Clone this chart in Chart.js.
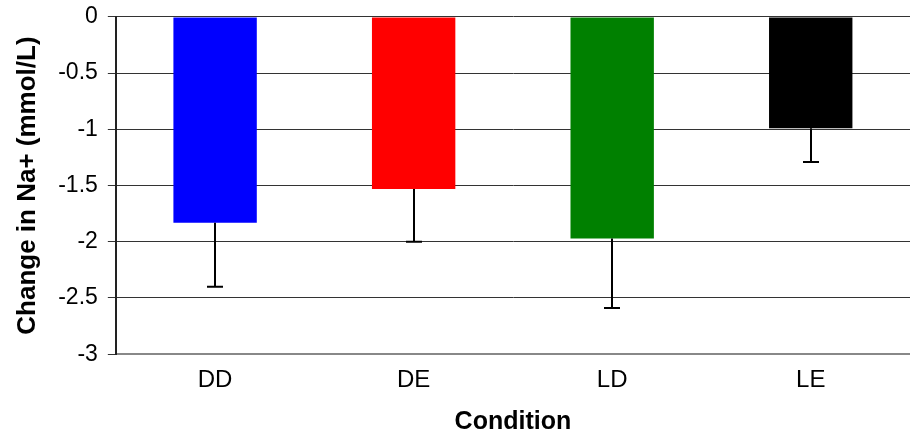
<!DOCTYPE html>
<html>
<head>
<meta charset="utf-8">
<script src="https://cdn.jsdelivr.net/npm/chart.js@4.4.0/dist/chart.umd.min.js"></script>
<style>
  html, body { margin: 0; padding: 0; background: #fff; }
  #wrap { width: 910px; height: 437px; }
</style>
</head>
<body>
<div id="wrap"><canvas id="chart" width="910" height="437"></canvas></div>
<script>
// data
const conditions = ["DD", "DE", "LD", "LE"];
const naChange = [-1.83, -1.53, -1.97, -0.99];
const naError = [0.57, 0.47, 0.62, 0.30]; // drawn downward only
const barColors = ["#0000ff", "#ff0000", "#008000", "#000000"];

// simple error bar plugin, uses the y scale to place each whisker
const errorBars = {
  id: "errorBars",
  afterDatasetsDraw(chart) {
    const ctx = chart.ctx;
    const yScale = chart.scales.y;
    const meta = chart.getDatasetMeta(0);
    ctx.save();
    ctx.strokeStyle = "#000";
    ctx.lineWidth = 2;
    meta.data.forEach((bar, i) => {
      const x = Math.round(bar.x);
      const yTop = yScale.getPixelForValue(naChange[i]);
      const yEnd = yScale.getPixelForValue(naChange[i] - naError[i]);
      ctx.beginPath();
      ctx.moveTo(x, yTop);
      ctx.lineTo(x, yEnd);
      ctx.moveTo(x - 8, yEnd);
      ctx.lineTo(x + 8, yEnd);
      ctx.stroke();
    });
    ctx.restore();
  }
};

const ctx = document.getElementById("chart");
new Chart(ctx, {
  type: "bar",
  data: {
    labels: conditions,
    datasets: [{
      data: naChange,
      backgroundColor: barColors,
      borderWidth: 0,
      barPercentage: 0.84,
      categoryPercentage: 0.5
    }]
  },
  options: {
    responsive: false,
    animation: false,
    layout: { padding: { top: 0, right: 0, left: 12, bottom: 0 } },
    plugins: {
      legend: { display: false },
      tooltip: { enabled: false }
    },
    scales: {
      x: {
        grid: { display: false },
        border: { display: true, color: "#888", width: 2 },
        ticks: {
          color: "#000",
          padding: 4,
          font: { family: "'Liberation Sans', Arial", size: 24 }
        },
        title: {
          display: true,
          text: "Condition",
          color: "#000",
          padding: { top: 8, bottom: 0 },
          font: { family: "'Liberation Sans', Arial", size: 25, weight: "bold" }
        }
      },
      y: {
        min: -3,
        max: 0,
        ticks: {
          stepSize: 0.5,
          color: "#000",
          padding: 10,
          callback: (v) => String(v),
          font: { family: "'Liberation Sans', Arial", size: 23, lineHeight: 0.6 }
        },
        grid: { color: "#333", lineWidth: 1, tickLength: 8 },
        border: { display: true, color: "#222", width: 2 },
        title: {
          display: true,
          text: "Change in Na+ (mmol/L)",
          color: "#000",
          padding: { top: 0, bottom: 5 },
          font: { family: "'Liberation Sans', Arial", size: 26, weight: "bold" }
        }
      }
    }
  },
  plugins: [errorBars]
});
</script>
</body>
</html>
